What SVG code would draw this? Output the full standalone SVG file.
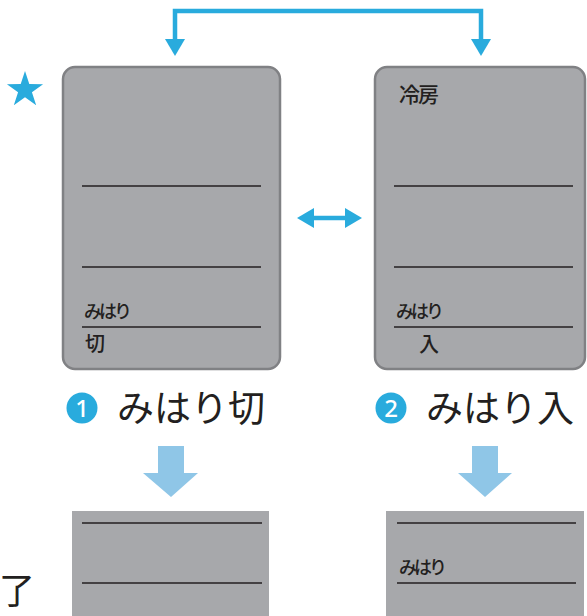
<svg xmlns="http://www.w3.org/2000/svg" width="587" height="616" viewBox="0 0 587 616">
<style>
.box{fill:#a7a8ab;stroke:#808184;stroke-width:2.5}
.flat{fill:#a7a8ab}
.rule{stroke:#231f20;stroke-width:1.5}
.t{font-family:"Noto Sans CJK JP","Noto Sans",sans-serif;fill:#231f20}
.s{font-size:18px;font-weight:500;letter-spacing:-3px}
.m{font-weight:500}
.num{font-family:"Noto Sans","DejaVu Sans",sans-serif;fill:#ffffff;font-size:24px;font-weight:500;text-anchor:middle}
.conn{fill:none;stroke:#29abdd;stroke-width:4.5}
.blue{fill:#29abdd}
.down{fill:#8fc6e7}
</style>
<defs>
<marker id="ah" markerUnits="userSpaceOnUse" markerWidth="17" markerHeight="20" refX="0" refY="10" orient="auto-start-reverse" viewBox="0 0 17 20">
<path d="M0,0 L17,10 L0,20 z" fill="#29abdd"/>
</marker>
</defs>
<g id="connectors">
<path class="conn" d="M175,39 V11 H481 V39" marker-start="url(#ah)" marker-end="url(#ah)"/>
<path class="conn" stroke-width="4" d="M314,218 H345" marker-start="url(#ah)" marker-end="url(#ah)"/>
<polygon class="down" points="158,446 184,446 184,473 198,473 171,497 143,473 158,473"/>
<polygon class="down" points="472,446 498,446 498,473 512,473 485,497 458,473 472,473"/>
</g>
<g id="star">
<polygon class="blue" points="25,71 29.29,84.09 43.07,84.13 31.94,92.26 36.17,105.37 25,97.3 13.83,105.37 18.06,92.26 6.93,84.13 20.71,84.09"/>
</g>
<g id="panel-left">
<rect class="box" x="63" y="67" width="217" height="302" rx="12"/>
<line class="rule" x1="82" y1="186" x2="261" y2="186"/>
<line class="rule" x1="82" y1="267" x2="261" y2="267"/>
<line class="rule" x1="82" y1="327" x2="261" y2="327"/>
<text class="t s" x="84" y="318">みはり</text>
<text class="t m" x="85" y="351" font-size="20">切</text>
</g>
<g id="panel-right">
<rect class="box" x="375" y="67" width="210" height="302" rx="12"/>
<text class="t m" x="399" y="102" font-size="21" letter-spacing="-2">冷房</text>
<line class="rule" x1="394" y1="186" x2="573" y2="186"/>
<line class="rule" x1="394" y1="267" x2="573" y2="267"/>
<line class="rule" x1="394" y1="327" x2="573" y2="327"/>
<text class="t s" x="396" y="318">みはり</text>
<text class="t m" x="419" y="352" font-size="20">入</text>
</g>
<g id="label-1">
<circle class="blue" cx="82" cy="408" r="15.5"/>
<text class="num" x="82" y="417">1</text>
<text class="t" x="117" y="422" font-size="37">みはり切</text>
</g>
<g id="label-2">
<circle class="blue" cx="391" cy="408" r="15.5"/>
<text class="num" x="391" y="417">2</text>
<text class="t" x="426" y="422" font-size="37">みはり入</text>
</g>
<g id="result-left">
<rect class="flat" x="72" y="511" width="197" height="105"/>
<line class="rule" x1="82" y1="523" x2="262" y2="523"/>
<line class="rule" x1="82" y1="583" x2="262" y2="583"/>
</g>
<g id="result-right">
<rect class="flat" x="386" y="511" width="198" height="105"/>
<line class="rule" x1="397" y1="523" x2="576" y2="523"/>
<text class="t s" x="399" y="574">みはり</text>
<line class="rule" x1="397" y1="583" x2="576" y2="583"/>
</g>
<text class="t" x="-1" y="604" font-size="36">了</text>
</svg>
